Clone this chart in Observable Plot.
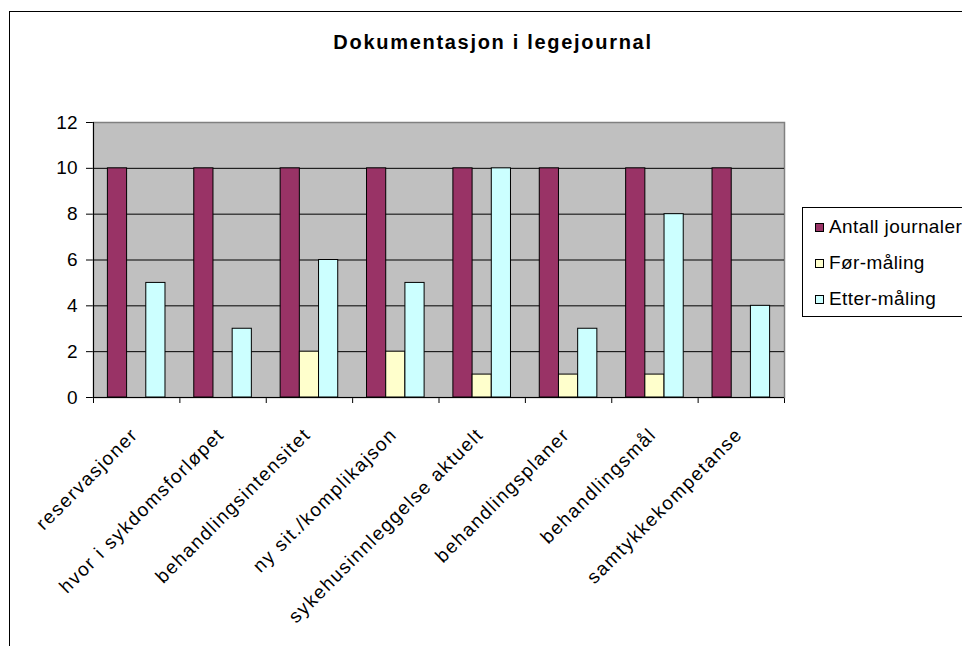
<!DOCTYPE html>
<html>
<head>
<meta charset="utf-8">
<script src="https://cdn.jsdelivr.net/npm/d3@7"></script>
<script src="https://cdn.jsdelivr.net/npm/@observablehq/plot@0.6"></script>
<style>
  body { margin: 0; background: #fff; font-family: "Liberation Sans", Arial, sans-serif; }
  #wrap { position: relative; width: 962px; height: 646px; overflow: hidden; }
  #border { position: absolute; left: 9px; top: 11px; width: 1100px; height: 800px;
            border-top: 1px solid #000; border-left: 1px solid #000; }
  #title { position: absolute; left: 0; width: 986px; top: 31px; text-align: center;
           font-weight: bold; font-size: 20px; letter-spacing: 1.7px; color: #000; }
  #chart { position: absolute; left: 0; top: 0; }
  #chart g[aria-label="text"] text { letter-spacing: 1.5px; }
  #legend { position: absolute; left: 802px; top: 207px; width: 220px; height: 108px;
            border: 1px solid #000; background: #fff; }
  .item { position: absolute; left: 12px; height: 20px; font-size: 19px; letter-spacing: 0.4px;
          line-height: 20px; white-space: nowrap; }
  .sw { position: absolute; left: 0; top: 6px; width: 7px; height: 7px; border: 1px solid #000; }
  .lab { position: absolute; left: 14px; top: 0; }
</style>
</head>
<body>
<div id="wrap">
  <div id="border"></div>
  <div id="title">Dokumentasjon i legejournal</div>
  <div id="chart"></div>
  <div id="legend"></div>
</div>
<script>
// ---- data ----
const categories = [
  "reservasjoner",
  "hvor i sykdomsforløpet",
  "behandlingsintensitet",
  "ny sit./komplikajson",
  "sykehusinnleggelse aktuelt",
  "behandlingsplaner",
  "behandlingsmål",
  "samtykkekompetanse"
];
const antallJournaler = [10, 10, 10, 10, 10, 10, 10, 10];
const forMaling       = [0, 0, 2, 2, 1, 1, 1, 0];
const etterMaling     = [5, 3, 6, 5, 10, 3, 8, 4];
const seriesNames  = ["Antall journaler", "Før-måling", "Etter-måling"];
const seriesColors = ["#993366", "#FFFFCC", "#CCFFFF"];
const yTicks = [0, 2, 4, 6, 8, 10, 12];

// ---- build table ----
const seriesValues = [antallJournaler, forMaling, etterMaling];
const bars = [];
categories.forEach((c, i) => {
  seriesValues.forEach((vals, j) => {
    if (vals[i] > 0) bars.push({i, j, category: c, series: seriesNames[j], value: vals[i]});
  });
});
const gap = 1.5;                 // Excel gap width 150%
const slot = seriesNames.length + gap;

const chart = Plot.plot({
  width: 962,
  height: 646,
  marginLeft: 93,
  marginRight: 178,
  marginTop: 122,
  marginBottom: 249,
  style: {fontFamily: "Liberation Sans, Arial, sans-serif", fontSize: "19px", background: "transparent", color: "#000"},
  x: {domain: [0, categories.length], ticks: d3.range(categories.length + 1), tickFormat: () => "", tickSize: 6, label: null},
  y: {domain: [0, 12], ticks: yTicks, tickSize: 7, tickPadding: 9, label: null},
  color: {domain: seriesNames, range: seriesColors},
  marks: [
    Plot.frame({fill: "#c0c0c0", stroke: "#808080", strokeWidth: 1.5}),
    Plot.ruleY(yTicks.filter(t => t > 0 && t < 12), {stroke: "#000", strokeWidth: 1}),
    Plot.rectY(bars, {
      x1: d => d.i + (gap / 2 + d.j) / slot,
      x2: d => d.i + (gap / 2 + d.j + 1) / slot,
      y1: 0,
      y2: "value",
      fill: "series",
      stroke: "#000",
      strokeWidth: 1
    }),
    Plot.ruleX([0], {stroke: "#000"}),
    Plot.ruleY([0], {stroke: "#000"}),
    Plot.text(categories, {
      x: (d, i) => i + 0.5,
      y: 0,
      text: d => d,
      rotate: -45,
      textAnchor: "end",
      dx: -2,
      dy: 34,
      fontSize: 19,
      fill: "#000"
    })
  ]
});
document.getElementById("chart").appendChild(chart);

// legend
const legend = d3.select("#legend");
seriesNames.forEach((name, k) => {
  const it = legend.append("div").attr("class", "item").style("top", (9 + k * 36) + "px");
  it.append("div").attr("class", "sw").style("background", seriesColors[k]);
  it.append("div").attr("class", "lab").text(name);
});
</script>
</body>
</html>
